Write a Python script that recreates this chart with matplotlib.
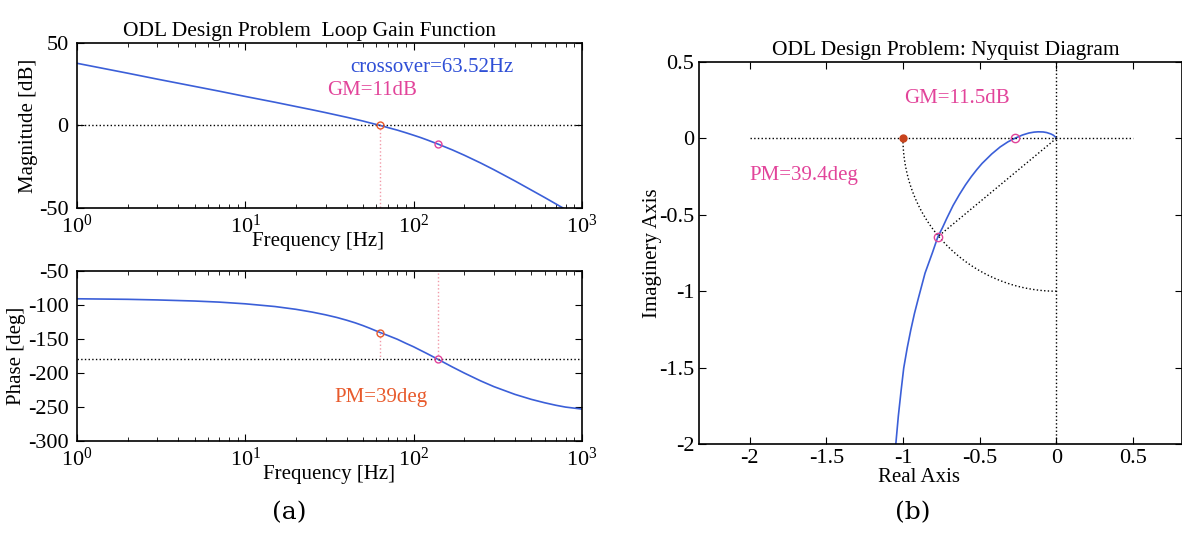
import matplotlib
matplotlib.use("Agg")
import matplotlib.pyplot as plt
import numpy as np

plt.rcParams['font.family'] = ['Liberation Serif', 'DejaVu Serif']
plt.rcParams['mathtext.fontset'] = 'stix'
plt.rcParams['axes.unicode_minus'] = False

# Bode data
freq = [1, 2, 3, 5, 7, 10, 15, 20, 25, 30, 35, 40, 45, 50, 55, 63.52, 70, 80,
        90, 100, 110, 120, 140, 170, 200, 250, 300, 400, 500, 600, 700, 800, 1000]
mag_db = [37.7, 31.7, 28.1, 23.7, 20.8, 17.6, 14.1, 11.5, 9.5, 7.8, 6.3, 5.0,
          3.8, 2.7, 1.6, 0.0, -1.2, -2.8, -4.4, -5.9, -7.3, -8.7, -11.3, -14.8,
          -18.0, -22.7, -26.8, -33.6, -39.1, -43.6, -47.5, -50.9, -56.6]
phase_deg = [-90.8, -91.6, -92.5, -94.1, -95.7, -98.2, -102.2, -106.3, -110.4,
             -114.4, -118.3, -122.3, -126.2, -130.2, -134.2, -140.6, -144.6,
             -150.3, -156.3, -161.4, -166.6, -171.3, -180.0, -191.1, -200.0,
             -211.5, -220.0, -231.4, -238.7, -243.7, -247.4, -250.1, -253.0]

# Nyquist data
nyq_re = [-1.115, -1.09, -1.077, -1.063, -1.047, -1.03, -1.012, -0.995, -0.972,
          -0.949, -0.925, -0.901, -0.856, -0.806, -0.772, -0.742, -0.715, -0.673,
          -0.631, -0.592, -0.554, -0.518, -0.484, -0.421, -0.366, -0.316, -0.271,
          -0.221, -0.179, -0.145, -0.118, -0.085, -0.062, -0.035, -0.021, -0.013,
          -0.006, -0.003, 0.0]
nyq_im = [-3.6, -2.78, -2.428, -2.227, -2.005, -1.816, -1.65, -1.503, -1.37,
          -1.254, -1.146, -1.052, -0.882, -0.743, -0.643, -0.584, -0.525, -0.439,
          -0.366, -0.304, -0.25, -0.204, -0.164, -0.102, -0.056, -0.023, 0.0,
          0.022, 0.035, 0.041, 0.043, 0.042, 0.038, 0.029, 0.022, 0.016, 0.0095,
          0.006, 0.0]

f_cross = 63.52
f_gm = 140
gm_mag = -11.5
pm_phase = -140.6
pm_re, pm_im = -0.772, -0.643
gm_re = -0.269

blue = '#3b5fd8'
pink = '#e2449a'
orange = '#e85a2c'
light = '#f19aa8'

fig = plt.figure(figsize=(11.82, 5.51), dpi=100)
ax1 = fig.add_axes([0.0651, 0.6225, 0.4272, 0.2995])
ax2 = fig.add_axes([0.0651, 0.1996, 0.4272, 0.3085])
ax3 = fig.add_axes([0.5914, 0.1942, 0.4086, 0.6933])

# magnitude
ax1.semilogx(freq, mag_db, color=blue, lw=1.2)
ax1.axhline(0, color='k', ls=':', lw=1)
ax1.plot([f_cross, f_cross], [0, -50], ls=':', color=light, lw=1)
ax1.plot(f_cross, 0, 'o', mfc='none', mec=orange, ms=5)
ax1.plot(f_gm, gm_mag, 'o', mfc='none', mec=pink, ms=5)
ax1.set_xlim(1, 1000)
ax1.set_ylim(-50, 50)
ax1.set_yticks([-50, 0, 50])
ax1.set_ylabel('Magnitude [dB]', fontsize=15, labelpad=1)
ax1.set_xlabel('Frequency [Hz]', fontsize=15)
ax1.xaxis.set_label_coords(0.477, -0.145, transform=ax1.transAxes)
ax1.set_title('ODL Design Problem  Loop Gain Function', fontsize=15.5, pad=5, x=0.46)
ax1.text(42, 35, 'crossover=63.52Hz', color='#2f4fd6', fontsize=15, va='center')
ax1.text(30.6, 21.5, 'GM=11dB', color=pink, fontsize=15, va='center')

# phase
ax2.semilogx(freq, phase_deg, color=blue, lw=1.2)
ax2.axhline(-180, color='k', ls=':', lw=1)
ax2.plot([f_cross, f_cross], [pm_phase, -180], ls=':', color=light, lw=1)
ax2.plot([f_gm, f_gm], [-180, -50], ls=':', color=light, lw=1)
ax2.plot(f_cross, pm_phase, 'o', mfc='none', mec=orange, ms=5)
ax2.plot(f_gm, -180, 'o', mfc='none', mec=pink, ms=5)
ax2.set_xlim(1, 1000)
ax2.set_ylim(-300, -50)
ax2.set_yticks([-300, -250, -200, -150, -100, -50])
ax2.set_ylabel('Phase [deg]', fontsize=15, labelpad=1)
ax2.set_xlabel('Frequency [Hz]', fontsize=15, labelpad=-4)
ax2.text(34, -236, 'PM=39deg', color=orange, fontsize=15, va='center')

# nyquist
ax3.plot(nyq_re, nyq_im, color=blue, lw=1.2)
ax3.plot([-2, 0.5], [0, 0], color='k', ls=':', lw=1)
ax3.plot([0, 0], [0.5, -2], color='k', ls=':', lw=1)
arc_t = np.radians(np.linspace(180, 270, 60))
ax3.plot(np.cos(arc_t), np.sin(arc_t), color='k', ls=':', lw=1)
ax3.plot([0, pm_re], [0, pm_im], color='k', ls=':', lw=1)
ax3.plot(-1, 0, 'o', color='#c8431c', ms=5)
ax3.plot(gm_re, 0, 'o', mfc='none', mec=pink, ms=6)
ax3.plot(pm_re, pm_im, 'o', mfc='none', mec=pink, ms=6)
ax3.set_xlim(-2.33, 0.82)
ax3.set_ylim(-2, 0.5)
ticks = [-2, -1.5, -1, -0.5, 0, 0.5]
tick_lbl = ['-2', '-1.5', '-1', '-0.5', '0', '0.5']
ax3.set_xticks(ticks)
ax3.set_xticklabels(tick_lbl)
ax3.set_yticks(ticks)
ax3.set_yticklabels(tick_lbl)
ax3.set_xlabel('Real Axis', fontsize=15)
ax3.xaxis.set_label_coords(0.455, -0.063, transform=ax3.transAxes)
ax3.set_ylabel('Imaginery Axis', fontsize=15, labelpad=-2)
ax3.set_title('ODL Design Problem: Nyquist Diagram', fontsize=15.5, pad=5, x=0.51)
ax3.text(-0.99, 0.26, 'GM=11.5dB', color=pink, fontsize=15, va='center')
ax3.text(-2.0, -0.24, 'PM=39.4deg', color=pink, fontsize=15, va='center')

for ax in (ax1, ax2, ax3):
    ax.tick_params(which='both', direction='in', top=True, right=True,
                   labelsize=16)
    ax.tick_params(which='major', length=5)
    ax.tick_params(which='minor', length=3)
    for s in ax.spines.values():
        s.set_linewidth(1.2)
for ax in (ax1, ax2):
    ax.tick_params(axis='y', pad=6)
    ax.tick_params(axis='x', pad=4.5)

fig.text(0.245, 0.07, '(a)', fontsize=18, family='DejaVu Serif', ha='center', va='center')
fig.text(0.772, 0.07, '(b)', fontsize=18, family='DejaVu Serif', ha='center', va='center')

fig.savefig('out.png', dpi=100)
